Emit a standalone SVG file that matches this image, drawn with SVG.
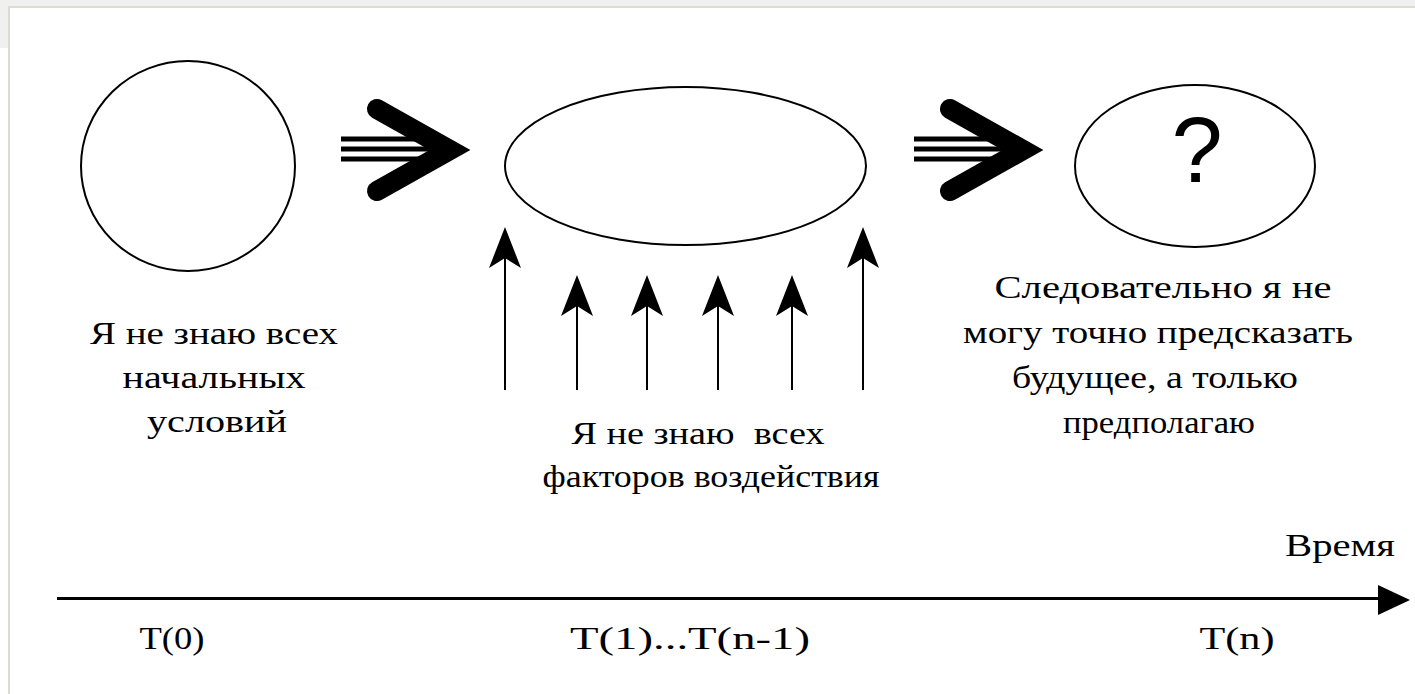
<svg xmlns="http://www.w3.org/2000/svg" width="1415" height="694" viewBox="0 0 1415 694">
  <style>
    .outline { fill: none; stroke: #000; stroke-width: 2; }
    .label { font-family: "Liberation Serif", "DejaVu Serif", serif; font-size: 32px; fill: #000; text-anchor: middle; }
    .shaft { stroke: #000; stroke-width: 2; }
    .fat { fill: none; stroke: #000; stroke-width: 20; stroke-linecap: round; stroke-linejoin: miter; stroke-miterlimit: 6; }
    .bar { stroke: #000; stroke-width: 5; }
  </style>
  <defs>
    <!-- narrow notched arrowhead, tip at origin pointing up -->
    <polygon id="head" points="0,0 16,41 0,31 -16,41"/>
    <!-- triple-line double chevron arrow, tip at origin pointing right -->
    <g id="fatArrow">
      <line class="bar" x1="-129" y1="-11" x2="-35" y2="-11"/>
      <line class="bar" x1="-129" y1="-1" x2="-35" y2="-1"/>
      <line class="bar" x1="-129" y1="9" x2="-35" y2="9"/>
      <polyline class="fat" points="-93,-41 -20,0 -93,41"/>
    </g>
  </defs>

  <!-- page background and panel frame -->
  <rect x="0" y="0" width="1415" height="694" fill="#ffffff"/>
  <rect x="0" y="0" width="1415" height="6" fill="#f0f0f0"/>
  <rect x="0" y="0" width="8" height="48" fill="#f0f0f0"/>
  <line x1="8" y1="7" x2="1415" y2="7" stroke="#dcdccf" stroke-width="2"/>
  <line x1="9" y1="6" x2="9" y2="694" stroke="#dcdccf" stroke-width="2"/>

  <!-- nodes -->
  <g id="initial-state">
    <ellipse class="outline" cx="188" cy="166" rx="107" ry="105"/>
    <text class="label" x="214" y="344" textLength="248" lengthAdjust="spacingAndGlyphs">Я не знаю всех</text>
    <text class="label" x="214" y="388" textLength="183" lengthAdjust="spacingAndGlyphs">начальных</text>
    <text class="label" x="217" y="432" textLength="140" lengthAdjust="spacingAndGlyphs">условий</text>
  </g>

  <g id="process">
    <ellipse class="outline" cx="685.5" cy="166" rx="180.5" ry="79"/>
    <text class="label" x="698" y="444" textLength="253" lengthAdjust="spacingAndGlyphs" xml:space="preserve">Я не знаю  всех</text>
    <text class="label" x="711" y="487" textLength="337" lengthAdjust="spacingAndGlyphs">факторов воздействия</text>
  </g>

  <g id="future-state">
    <ellipse class="outline" cx="1195" cy="166" rx="120" ry="81"/>
    <text x="1197" y="182" font-family="Liberation Sans, Arial, sans-serif" font-size="92" text-anchor="middle">?</text>
    <text class="label" x="1163" y="298" textLength="337" lengthAdjust="spacingAndGlyphs">Следовательно я не</text>
    <text class="label" x="1158" y="343" textLength="390" lengthAdjust="spacingAndGlyphs">могу точно предсказать</text>
    <text class="label" x="1155" y="388" textLength="286" lengthAdjust="spacingAndGlyphs">будущее, а только</text>
    <text class="label" x="1159" y="433" textLength="192" lengthAdjust="spacingAndGlyphs">предполагаю</text>
  </g>

  <g id="timeline">
    <line x1="57" y1="598.5" x2="1385" y2="598.5" stroke="#000" stroke-width="3"/>
    <polygon points="1378,585 1410,600 1378,615" fill="#000"/>
    <text class="label" x="1340" y="556" textLength="110" lengthAdjust="spacingAndGlyphs">Время</text>
    <text class="label" x="172" y="649" textLength="65" lengthAdjust="spacingAndGlyphs">T(0)</text>
    <text class="label" x="690" y="649" textLength="240" lengthAdjust="spacingAndGlyphs">T(1)...T(n-1)</text>
    <text class="label" x="1237" y="649" textLength="75" lengthAdjust="spacingAndGlyphs">T(n)</text>
  </g>

  <!-- connectors -->
  <g id="connectors">
    <use href="#fatArrow" x="470" y="150"/>
    <use href="#fatArrow" x="1043" y="150"/>

    <line class="shaft" x1="505" y1="250" x2="505" y2="390"/>
    <use href="#head" x="505" y="227"/>
    <line class="shaft" x1="577" y1="298" x2="577" y2="390"/>
    <use href="#head" x="577" y="275"/>
    <line class="shaft" x1="647" y1="298" x2="647" y2="390"/>
    <use href="#head" x="647" y="275"/>
    <line class="shaft" x1="718" y1="298" x2="718" y2="390"/>
    <use href="#head" x="718" y="275"/>
    <line class="shaft" x1="792" y1="298" x2="792" y2="390"/>
    <use href="#head" x="792" y="275"/>
    <line class="shaft" x1="863" y1="250" x2="863" y2="390"/>
    <use href="#head" x="863" y="227"/>
  </g>
</svg>
